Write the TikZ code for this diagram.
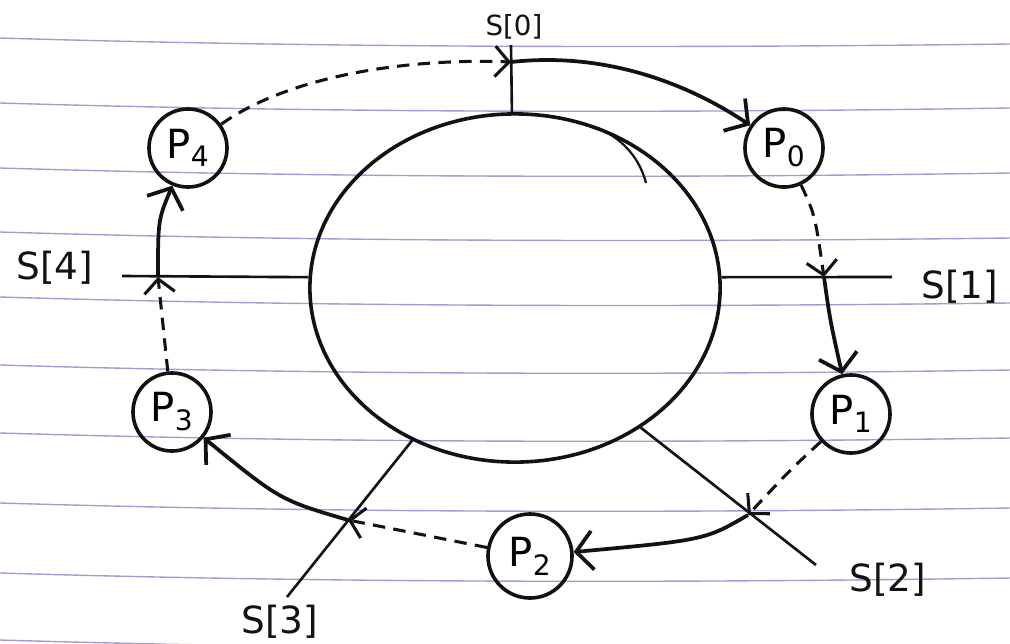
\documentclass[tikz,border=0pt]{standalone}
\usepackage{fontspec}
\newfontfamily\handfont{DejaVu Sans}
\usepackage{tikz}
\usetikzlibrary{arrows.meta,shapes.geometric}
\definecolor{ruling}{RGB}{165,155,212}
\definecolor{ink}{RGB}{18,18,18}

\begin{document}
\begin{tikzpicture}[x=0.01in,y=-0.01in,
  phil/.style={draw=ink, line width=2.6pt, circle, minimum size=0.78in, inner sep=0pt,
    font=\handfont\fontsize{29}{31}\selectfont},
  lbl/.style={inner sep=0pt, text=ink, font=\handfont\fontsize{27}{29}\selectfont},
  fork/.style={draw=ink, line width=1.9pt},
  hop/.style={draw=ink, line width=2.2pt, dash pattern=on 9pt off 6pt,
    -{Straight Barb[length=10pt,width=22pt]}},
  grab/.style={draw=ink, line width=2.7pt, -{Straight Barb[length=12pt,width=28pt]}}]
\useasboundingbox (0,0) rectangle (1010,643);
\fill[white] (0,0) rectangle (1010,643);
% ruled paper
\draw[ruling, line width=1pt] (0,38) .. controls (330,48) and (680,48) .. (1010,44);
\draw[ruling, line width=1pt] (0,103) .. controls (330,113) and (680,113) .. (1010,108);
\draw[ruling, line width=1pt] (0,168) .. controls (330,178) and (680,178) .. (1010,173);
\draw[ruling, line width=1pt] (0,232) .. controls (330,242) and (680,242) .. (1010,238);
\draw[ruling, line width=1pt] (0,297) .. controls (330,307) and (680,307) .. (1010,303);
\draw[ruling, line width=1pt] (0,365) .. controls (330,375) and (680,375) .. (1010,370);
\draw[ruling, line width=1pt] (0,433) .. controls (330,443) and (680,443) .. (1010,438);
\draw[ruling, line width=1pt] (0,503) .. controls (330,513) and (680,513) .. (1010,508);
\draw[ruling, line width=1pt] (0,573) .. controls (330,583) and (680,583) .. (1010,578);
\draw[ruling, line width=1pt] (0,640) .. controls (330,650) and (680,650) .. (1010,645);
% table
\node[draw=ink, line width=2.6pt, ellipse, minimum width=4.1in, minimum height=3.48in,
  inner sep=0pt] (table) at (515,288) {};
\draw[ink, line width=1.6pt] (598,128) .. controls (625,140) and (640,160) .. (646,183);
% forks
\coordinate (f0) at (511,45);
\coordinate (f1) at (892,277);
\coordinate (f2) at (816,565);
\coordinate (f3) at (287,597);
\coordinate (f4) at (122,276);
\draw[fork] (table.91) -- (f0);
\draw[fork] (table.3) -- (f1);
\draw[fork] (table.-48) -- (f2);
\draw[fork] (table.-124) -- (f3);
\draw[fork] (table.177) -- (f4);
\coordinate (c0) at (511,62);
\coordinate (c1) at (824,277);
\coordinate (c2) at (748,515);
\coordinate (c3) at (348,520);
\coordinate (c4) at (158,277);
\node[lbl, font=\handfont\fontsize{20}{22}\selectfont] (s0) at (514,27) {S[0]};
\node[lbl] (s1) at (960,287) {S[1]};
\node[lbl] (s2) at (888,580) {S[2]};
\node[lbl] (s3) at (280,622) {S[3]};
\node[lbl] (s4) at (55,268) {S[4]};
% philosophers
\node[phil] (p0) at (784,148) {P\textsubscript{0}};
\node[phil] (p1) at (851,414) {P\textsubscript{1}};
\node[phil, minimum size=0.84in] (p2) at (530,556) {P\textsubscript{2}};
\node[phil] (p3) at (172,412) {P\textsubscript{3}};
\node[phil] (p4) at (188,148) {P\textsubscript{4}};
% who waits for which fork
\draw[hop] (p4) .. controls (290,75) and (410,58) .. (c0);
\draw[grab] (c0) .. controls (620,50) and (705,95) .. (p0);
\draw[hop] (p0) .. controls (815,215) .. (c1);
\draw[grab] (c1) .. controls (830,320) .. (p1);
\draw[hop] (p1) .. controls (790,470) .. (c2);
\draw[grab] (c2) .. controls (705,540) .. (p2);
\draw[hop] (p2) -- (c3);
\draw[grab] (c3) .. controls (280,500) .. (p3);
\draw[hop] (p3) -- (c4);
\draw[grab] (c4) .. controls (158,220) .. (p4);
\end{tikzpicture}
\end{document}
